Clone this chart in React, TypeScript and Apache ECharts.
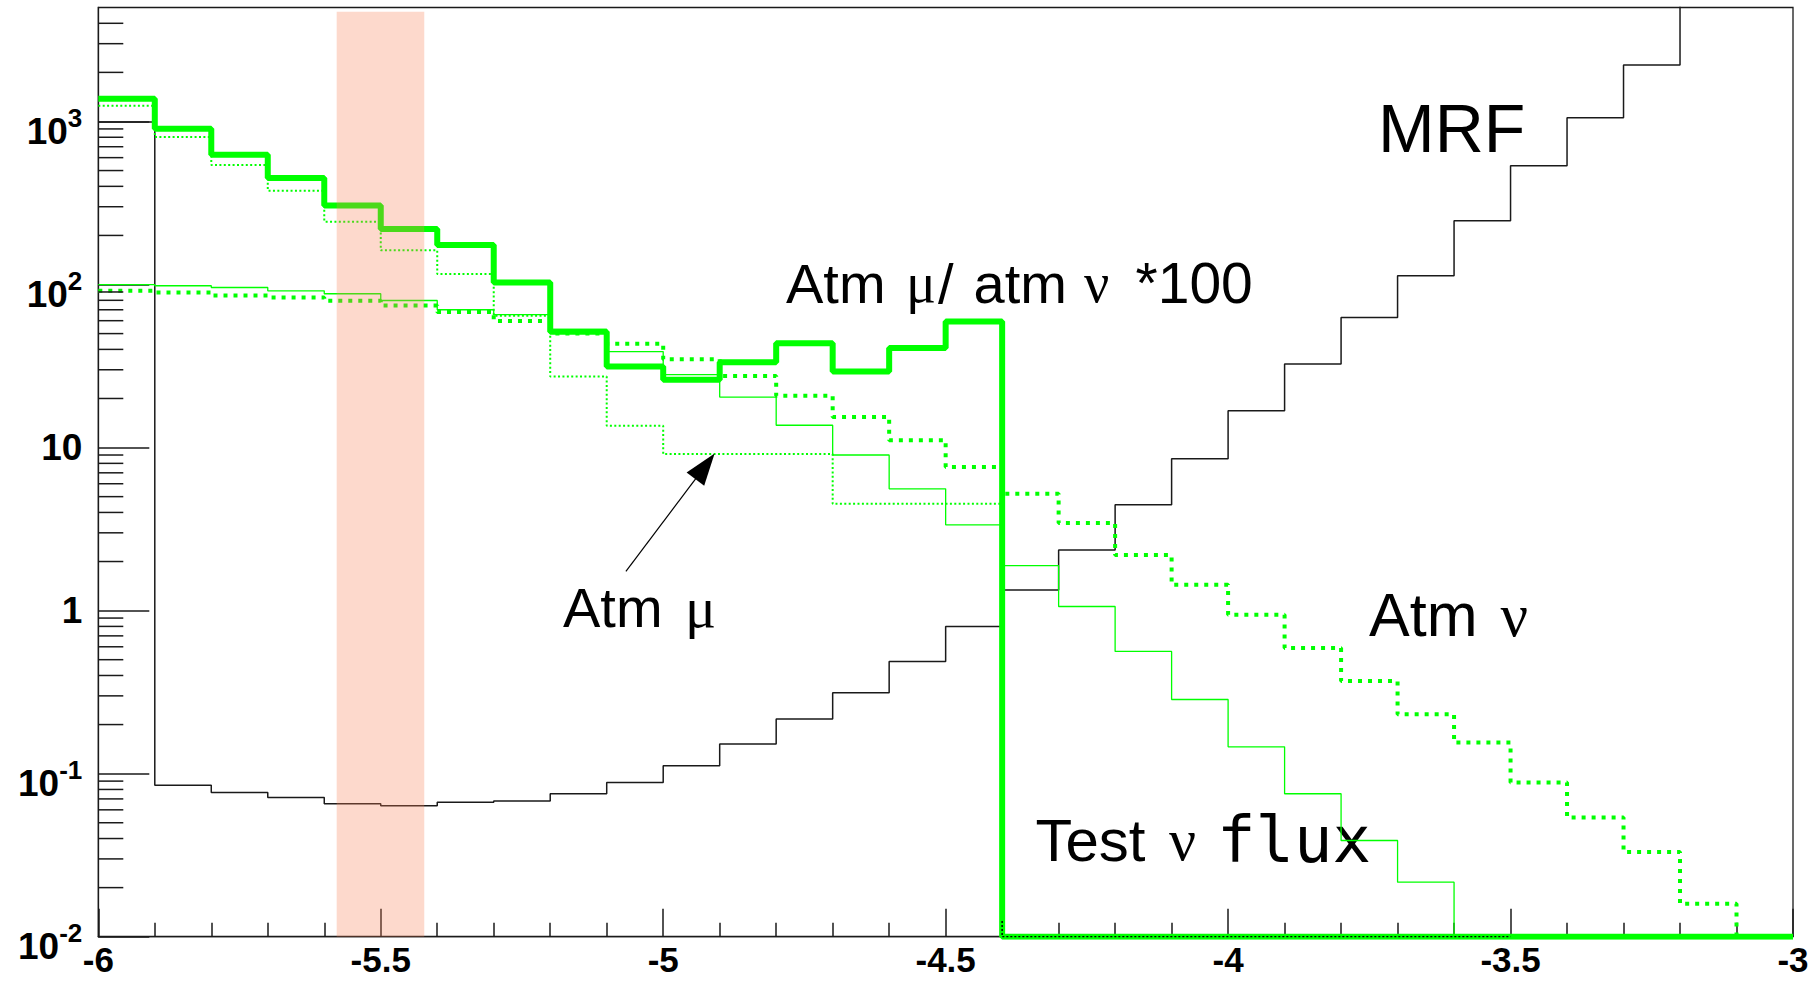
import React, { useEffect, useRef } from "react";
import * as echarts from "echarts";

// ---- axis ranges / binning ----
const X_MIN = -6;
const X_MAX = -3;
const BIN_WIDTH = 0.1;
const Y_MIN = 0.01;
const Y_MAX = 5000;

// ---- histogram contents (30 bins from -6 to -3) ----
const mrf = [991, 0.0848, 0.0767, 0.0715, 0.0654, 0.0636, 0.0667, 0.068, 0.0753, 0.0883, 0.112, 0.152, 0.216, 0.313, 0.488, 0.8, 1.34, 2.35, 4.46, 8.53, 16.8, 32.5, 62.8, 113, 246, 535, 1054, 2219, 5200, 10500];
const testNuFlux = [99.8, 98.3, 95.9, 91.5, 87.8, 79.8, 70.0, 65.3, 53, 38.8, 28, 20.4, 13.7, 9.0, 5.58, 3.36, 1.89, 1.06, 0.562, 0.285, 0.146, 0.0753, 0.0389, 0.0216, 0, 0, 0, 0, 0, 0];
const atmMu = [1248, 802, 540, 376, 243, 162, 116, 64.3, 27.3, 13.6, 9.12, 9.12, 9.12, 4.52, 4.52, 4.52, 0, 0, 0, 0, 0, 0, 0, 0, 0, 0, 0, 0, 0, 0];
const atmNu = [91.6, 89.3, 85.6, 83.3, 79.5, 74.4, 67.8, 59.7, 50, 43.3, 34.8, 27.5, 20.8, 15.4, 11.1, 7.59, 5.21, 3.44, 2.19, 1.44, 0.944, 0.59, 0.37, 0.231, 0.155, 0.0883, 0.0539, 0.0331, 0.0159, 0];
const ratioMuNu100 = [1378, 902, 625, 450, 305, 219, 175, 103, 51.3, 31.4, 26.1, 33.4, 43.7, 29.3, 40.8, 59.3, 0, 0, 0, 0, 0, 0, 0, 0, 0, 0, 0, 0, 0, 0];

// black dotted empty-bin trace along the bottom
const emptyTraceX = [-4.4, -4.4, -3.5];
const emptyTraceY = [0.0125, 0, 0];

// shaded band
const bandX = [-5.578, -5.423];
const bandTop = 4710;

// arrow (Atm mu label -> curve)
const arrowFrom = [-5.066, 1.74];
const arrowTo = [-4.926, 7.67];

// ticks
const yDecadeExponents = [-2, -1, 0, 1, 2, 3];
const yMinorTicks = [
  0.02, 0.03, 0.04, 0.05, 0.06, 0.07, 0.08, 0.09,
  0.2, 0.3, 0.4, 0.5, 0.6, 0.7, 0.8, 0.9,
  2, 3, 4, 5, 6, 7, 8, 9,
  20, 30, 40, 50, 60, 70, 80, 90,
  200, 300, 400, 500, 600, 700, 800, 900,
  2000, 3000, 4000,
];

const FONT = "Liberation Sans";
const GREEK = "Liberation Serif";
const MONO = "DejaVu Sans Mono";
const AXIS_COLOR = "#1a1a1a";
const GREEN = "#00ff00";

function histPoints(values: number[]) {
  const pts: number[][] = values.map((v, i) => [
    +(X_MIN + i * BIN_WIDTH).toFixed(6),
    Math.max(v, Y_MIN),
  ]);
  pts.push([
    +(X_MIN + values.length * BIN_WIDTH).toFixed(6),
    Math.max(values[values.length - 1], Y_MIN),
  ]);
  return pts;
}

function yLabel(v: number) {
  const l = Math.log10(v);
  const e = Math.round(l);
  if (Math.abs(l - e) > 1e-6 || yDecadeExponents.indexOf(e) < 0) return "";
  if (e === 0) return "{n|1}";
  if (e === 1) return "{n|10}";
  return `{b|10}{s|${e}}`;
}

const lineBase = {
  type: "line",
  showSymbol: false,
  symbol: "none",
  step: "end",
  silent: true,
  clip: true,
  animation: false,
};

function sansTok(size: number, width?: number) {
  const t: any = { fontFamily: FONT, fontSize: size, lineHeight: size, fill: "#000" };
  if (width !== undefined) t.width = width;
  return t;
}
function greekTok(size: number, width?: number) {
  const t: any = { fontFamily: GREEK, fontSize: size, lineHeight: size, fill: "#000" };
  if (width !== undefined) t.width = width;
  return t;
}

export default function App() {
  const ref = useRef<HTMLDivElement>(null);

  useEffect(() => {
    if (!ref.current) return;
    const chart = echarts.init(ref.current, null, { renderer: "svg" });

    const option: any = {
      animation: false,
      backgroundColor: "#ffffff",
      textStyle: { fontFamily: FONT },
      grid: {
        left: 98.3,
        right: 26,
        top: 7.5,
        bottom: 44.3,
        show: true,
        borderColor: AXIS_COLOR,
        borderWidth: 1.3,
        backgroundColor: "transparent",
      },
      xAxis: {
        type: "value",
        min: X_MIN,
        max: X_MAX,
        interval: 0.5,
        axisLine: { show: true, lineStyle: { color: AXIS_COLOR, width: 1.3 } },
        axisTick: { show: true, inside: true, length: 28, lineStyle: { color: AXIS_COLOR, width: 1.5 } },
        minorTick: { show: true, splitNumber: 5, length: 14, lineStyle: { color: AXIS_COLOR, width: 1.5 } },
        splitLine: { show: false },
        minorSplitLine: { show: false },
        axisLabel: {
          fontFamily: FONT,
          fontWeight: "bold",
          fontSize: 35,
          lineHeight: 30,
          color: "#000",
          margin: 8,
        },
      },
      yAxis: {
        type: "log",
        logBase: 10,
        min: Y_MIN,
        max: Y_MAX,
        axisLine: { show: true, lineStyle: { color: AXIS_COLOR, width: 1.3 } },
        axisTick: { show: true, inside: true, length: 51, lineStyle: { color: AXIS_COLOR, width: 1.5 } },
        minorTick: { show: false },
        splitLine: { show: false },
        axisLabel: {
          margin: 16,
          showMaxLabel: false,
          formatter: yLabel,
          rich: {
            n: { fontFamily: FONT, fontWeight: "bold", fontSize: 37, lineHeight: 37, color: "#000" },
            b: { fontFamily: FONT, fontWeight: "bold", fontSize: 37, lineHeight: 37, color: "#000", padding: [20, 0, 0, 0] },
            s: { fontFamily: FONT, fontWeight: "bold", fontSize: 26, lineHeight: 26, color: "#000", padding: [0, 0, 7, 0] },
          },
        },
      },
      series: [
        {
          ...lineBase,
          name: "MRF",
          data: histPoints(mrf),
          lineStyle: { color: AXIS_COLOR, width: 1.5 },
          z: 2,
        },
        {
          ...lineBase,
          name: "Test ν flux",
          data: histPoints(testNuFlux),
          lineStyle: { color: GREEN, width: 1.3 },
          z: 3,
        },
        {
          ...lineBase,
          name: "Atm μ",
          data: histPoints(atmMu),
          lineStyle: { color: GREEN, width: 2, type: [2, 2.4] },
          z: 4,
          markLine: {
            silent: true,
            animation: false,
            symbol: ["none", "triangle"],
            symbolSize: [22, 32],
            label: { show: false },
            emphasis: { disabled: true },
            lineStyle: { color: "#000", width: 1.2, type: "solid" },
            data: [[{ coord: arrowFrom }, { coord: arrowTo }]],
          },
        },
        {
          ...lineBase,
          name: "Atm ν",
          data: histPoints(atmNu),
          lineStyle: { color: GREEN, width: 4, type: [4, 6] },
          z: 5,
        },
        {
          ...lineBase,
          name: "Atm μ/ atm ν *100",
          data: histPoints(ratioMuNu100),
          lineStyle: { color: GREEN, width: 6 },
          z: 6,
        },
        {
          type: "line",
          name: "empty bins",
          showSymbol: false,
          symbol: "none",
          silent: true,
          animation: false,
          data: emptyTraceX.map((x, i) => [x, Math.max(emptyTraceY[i], Y_MIN)]),
          lineStyle: { color: "#000", width: 1.5, type: [2, 2] },
          z: 7,
        },
        {
          type: "custom",
          name: "band",
          silent: true,
          animation: false,
          z: 8,
          encode: { x: [0, 2], y: [1, 3] },
          data: [[bandX[0], Y_MIN, bandX[1], bandTop]],
          renderItem: (params: any, api: any) => {
            const p0 = api.coord([api.value(0), api.value(3)]);
            const p1 = api.coord([api.value(2), api.value(1)]);
            return {
              type: "rect",
              shape: { x: p0[0], y: p0[1], width: p1[0] - p0[0], height: p1[1] - p0[1] },
              style: { fill: "rgba(250,128,85,0.3)" },
            };
          },
        },
        {
          type: "custom",
          name: "minor y ticks",
          silent: true,
          animation: false,
          z: 9,
          encode: { x: 0, y: 1 },
          data: yMinorTicks.map((v) => [X_MIN, v]),
          renderItem: (params: any, api: any) => {
            const p = api.coord([api.value(0), api.value(1)]);
            return {
              type: "line",
              shape: { x1: p[0], y1: p[1], x2: p[0] + 25, y2: p[1] },
              style: { stroke: AXIS_COLOR, lineWidth: 1.5 },
            };
          },
        },
      ],
      graphic: [
        {
          type: "text",
          x: 1378,
          y: 127.5,
          silent: true,
          style: {
            text: "MRF",
            fontFamily: FONT,
            fontSize: 68,
            fill: "#000",
            align: "left",
            verticalAlign: "middle",
          },
        },
        {
          type: "text",
          x: 786,
          y: 283.3,
          silent: true,
          style: {
            text: "{a|Atm }{g|μ}{c|/ }{d|atm }{h|ν}{e|*100}",
            align: "left",
            verticalAlign: "middle",
            rich: {
              a: sansTok(56, 120),
              g: greekTok(56, 32),
              c: sansTok(56, 35.5),
              d: sansTok(56, 110.5),
              h: greekTok(56, 51.5),
              e: sansTok(57),
            },
          },
        },
        {
          type: "text",
          x: 563,
          y: 607.5,
          silent: true,
          style: {
            text: "{a|Atm }{g|μ}",
            align: "left",
            verticalAlign: "middle",
            rich: { a: sansTok(56, 122), g: greekTok(58) },
          },
        },
        {
          type: "text",
          x: 1369,
          y: 615.3,
          silent: true,
          style: {
            text: "{a|Atm }{g|ν}",
            align: "left",
            verticalAlign: "middle",
            rich: { a: sansTok(61, 131.4), g: greekTok(61) },
          },
        },
        {
          type: "text",
          x: 1035.5,
          y: 840.3,
          silent: true,
          style: {
            text: "{a|Test }{g|ν }{m|flux}",
            align: "left",
            verticalAlign: "middle",
            rich: {
              a: sansTok(60, 133.5),
              g: greekTok(60, 48),
              m: { fontFamily: MONO, fontSize: 64, lineHeight: 64, fill: "#000" },
            },
          },
        },
      ],
    };

    chart.setOption(option);
    return () => {
      chart.dispose();
    };
  }, []);

  return (
    <div
      ref={ref}
      style={{ position: "fixed", left: 0, top: 0, width: 1819, height: 981, background: "#fff" }}
    />
  );
}
